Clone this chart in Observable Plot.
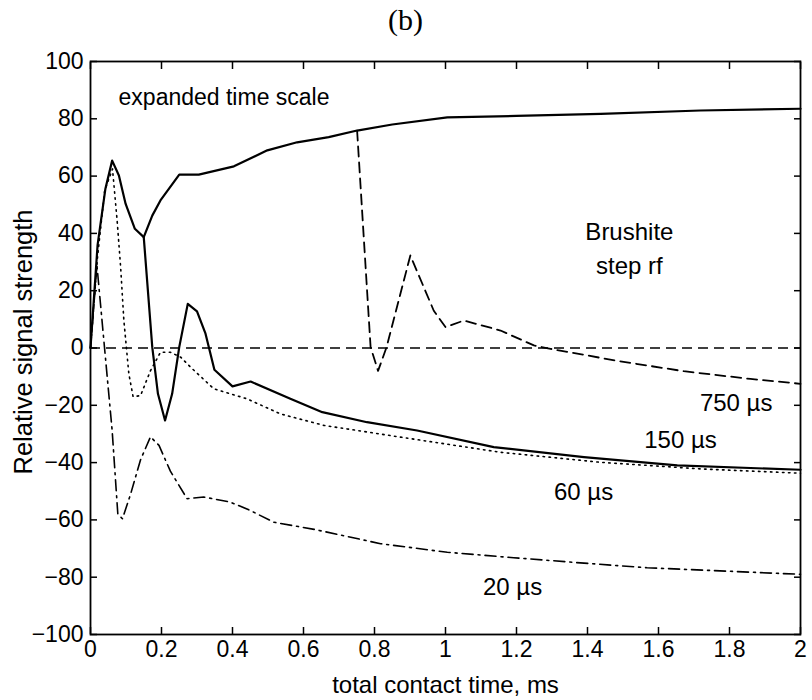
<!DOCTYPE html>
<html>
<head>
<meta charset="utf-8">
<script src="https://cdn.jsdelivr.net/npm/d3@7"></script>
<script src="https://cdn.jsdelivr.net/npm/@observablehq/plot@0.6"></script>
<style>
  html, body { margin: 0; padding: 0; background: #fff; }
  #chart svg { display: block; }
</style>
</head>
<body>
<div id="chart"></div>
<script>
// ---- data ----
const xTicks = [0, 0.2, 0.4, 0.6, 0.8, 1, 1.2, 1.4, 1.6, 1.8, 2];
const yTicks = [-100, -80, -60, -40, -20, 0, 20, 40, 60, 80, 100];

// 150 µs (solid)
const t150 = [0, 0.02, 0.042, 0.061, 0.08, 0.099, 0.125, 0.15, 0.174, 0.19, 0.21, 0.23, 0.25, 0.274, 0.3, 0.324, 0.349, 0.4, 0.451, 0.563, 0.653, 0.779, 0.92, 1.136, 1.39, 1.653, 2];
const v150 = [0, 36, 55.6, 65.4, 60.2, 50.3, 41.6, 38.7, 0.3, -16, -25.3, -16, 0.3, 15.4, 12.8, 5, -7.6, -13.4, -11.7, -17.7, -22.4, -25.9, -28.8, -34.6, -38.1, -41, -42.5];

// expanded time scale (solid, upper)
const tExp = [0.15, 0.174, 0.197, 0.25, 0.305, 0.404, 0.498, 0.582, 0.671, 0.751, 0.85, 1.005, 1.2, 1.437, 1.718, 2];
const vExp = [38.7, 46.2, 51.5, 60.5, 60.5, 63.4, 69, 71.8, 73.6, 75.9, 78, 80.5, 81, 81.7, 82.9, 83.5];

// 750 µs (dashed)
const t750 = [0.751, 0.789, 0.81, 0.834, 0.901, 0.967, 1.0, 1.052, 1.155, 1.249, 1.296, 1.48, 1.671, 1.859, 2];
const v750 = [75.9, 0.3, -8, 0.3, 32.3, 13, 7.3, 9.6, 6.1, 0.9, -0.3, -4.4, -8.1, -10.8, -12.5];

// 60 µs (dotted)
const t60 = [0, 0.02, 0.04, 0.062, 0.075, 0.085, 0.094, 0.108, 0.12, 0.141, 0.169, 0.197, 0.225, 0.254, 0.282, 0.347, 0.44, 0.535, 0.657, 0.873, 1.155, 1.437, 1.718, 2];
const v60 = [0, 32, 55, 62.5, 44.5, 28, 9.6, -9, -17, -16.6, -7.9, -1.5, -1.5, -3.2, -6.7, -14.2, -17.7, -23, -27, -31.1, -36.4, -39.9, -42.2, -43.7];

// 20 µs (dash-dot)
const t20 = [0, 0.018, 0.061, 0.077, 0.09, 0.113, 0.141, 0.169, 0.193, 0.225, 0.272, 0.319, 0.394, 0.45, 0.516, 0.63, 0.817, 1.005, 1.192, 1.38, 1.568, 1.756, 2];
const v20 = [0, 29, -28.8, -58, -59.6, -51, -39, -31, -34, -43, -52.6, -52, -53.8, -56.7, -60.8, -63.3, -68.3, -71.3, -73.2, -75, -76.7, -77.7, -79];

// zero reference line
const zeroLine = [0];

// annotations (centred)
const labelText = ["Brushite", "step rf", "150 µs", "60 µs", "20 µs"];
const labelX = [1.518, 1.518, 1.662, 1.389, 1.189];
const labelY = [40.3, 28.4, -32.3, -50.4, -83.6];
// annotations (right-aligned)
const endText = ["750 µs"];
const endX = [1.921];
const endY = [-19.4];
// annotations (left-aligned)
const noteText = ["expanded time scale"];
const noteX = [0.079];
const noteY = [87.5];

const titleText = "(b)";
const xLabel = "total contact time, ms";
const yLabel = "Relative signal strength";

// ---- build tables ----
const toRows = (t, v) => t.map((d, i) => ({t: d, v: v[i]}));
const d150 = toRows(t150, v150);
const dExp = toRows(tExp, vExp);
const d750 = toRows(t750, v750);
const d60 = toRows(t60, v60);
const d20 = toRows(t20, v20);
const toLabels = (s, x, y) => s.map((d, i) => ({s: d, x: x[i], y: y[i]}));
const labels = toLabels(labelText, labelX, labelY);
const endLabels = toLabels(endText, endX, endY);
const notes = toLabels(noteText, noteX, noteY);

const fmtX = d => String(+d.toFixed(1));
const fmtY = d => d < 0 ? "\u2212" + (-d) : String(d);
const font = "'Liberation Sans', Arial, Helvetica, sans-serif";

const chart = Plot.plot({
  width: 812,
  height: 700,
  marginLeft: 90,
  marginRight: 12,
  marginTop: 61,
  marginBottom: 66,
  style: {fontFamily: font, fontSize: "23px", color: "#000", background: "#fff"},
  x: {domain: [0, 2], ticks: xTicks},
  y: {domain: [-100, 100], ticks: yTicks},
  marks: [
    // inward tick marks on all four sides
    Plot.axisX(xTicks, {anchor: "bottom", tickSize: 7, dy: -7, tickFormat: () => "", label: null, strokeWidth: 1.5}),
    Plot.axisX(xTicks, {anchor: "top", tickSize: 7, dy: 7, tickFormat: () => "", label: null, strokeWidth: 1.5}),
    Plot.axisY(yTicks, {anchor: "left", tickSize: 7, dx: 7, tickFormat: () => "", label: null, strokeWidth: 1.5}),
    Plot.axisY(yTicks, {anchor: "right", tickSize: 7, dx: -7, tickFormat: () => "", label: null, strokeWidth: 1.5}),
    // tick labels
    Plot.axisX(xTicks, {anchor: "bottom", tickSize: 0, tickPadding: 6, tickFormat: fmtX, label: null, fontSize: 23}),
    Plot.axisY(yTicks, {anchor: "left", tickSize: 0, tickPadding: 7, tickFormat: fmtY, label: null, fontSize: 23}),
    Plot.frame({stroke: "#000", strokeWidth: 1.8}),
    Plot.ruleY(zeroLine, {stroke: "#000", strokeWidth: 1.6, strokeDasharray: "10,6"}),
    Plot.line(d20, {x: "t", y: "v", stroke: "#000", strokeWidth: 1.6, strokeDasharray: "11,5,2,5"}),
    Plot.line(d60, {x: "t", y: "v", stroke: "#000", strokeWidth: 1.6, strokeDasharray: "1.5,4.5", strokeLinecap: "round"}),
    Plot.line(d750, {x: "t", y: "v", stroke: "#000", strokeWidth: 1.8, strokeDasharray: "10,6"}),
    Plot.line(dExp, {x: "t", y: "v", stroke: "#000", strokeWidth: 2.2}),
    Plot.line(d150, {x: "t", y: "v", stroke: "#000", strokeWidth: 2.2}),
    Plot.text(labels, {x: "x", y: "y", text: "s", textAnchor: "middle", fontSize: 24, fill: "#000"}),
    Plot.text(endLabels, {x: "x", y: "y", text: "s", textAnchor: "end", fontSize: 24, fill: "#000"}),
    Plot.text(notes, {x: "x", y: "y", text: "s", textAnchor: "start", fontSize: 23, fill: "#000"}),
    Plot.text([titleText], {frameAnchor: "top", dx: -40, dy: -41, lineAnchor: "middle", text: d => d, textAnchor: "middle", fontSize: 30, fontFamily: "'Liberation Serif', 'Times New Roman', serif", fill: "#000"}),
    Plot.text([xLabel], {frameAnchor: "bottom", dy: 58, text: d => d, textAnchor: "middle", fontSize: 24, fill: "#000"}),
    Plot.text([yLabel], {frameAnchor: "left", dx: -67, dy: -6, rotate: -90, text: d => d, textAnchor: "middle", fontSize: 25.5, fill: "#000"})
  ]
});
document.getElementById("chart").appendChild(chart);
</script>
</body>
</html>
